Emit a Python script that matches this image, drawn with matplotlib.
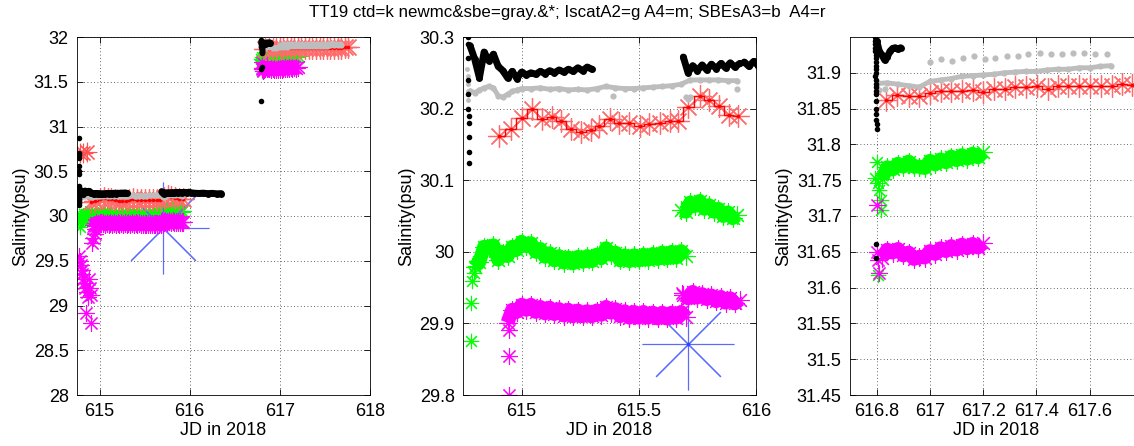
import numpy as np
import matplotlib.pyplot as plt
from matplotlib.ticker import FuncFormatter

plt.rcParams['font.family'] = ['Liberation Sans', 'DejaVu Sans']
plt.rcParams['font.size'] = 13


def grid_times(start, values, step=0.02):
    """Sample times of a regularly logged record that starts at `start`."""
    return start + step * np.arange(len(values))


# ----------------------------------------
# Data (JD in 2018, salinity psu)
# ----------------------------------------
# ctd = black dots
ctd_spike_x = [614.767, 614.767, 614.768, 614.768, 614.769, 614.769, 614.770, 614.770,
               614.771, 614.771, 614.772, 614.772, 614.773, 614.773, 614.774, 614.775,
               614.775, 614.776, 614.776]
ctd_spike_y = [30.87, 30.70, 30.68, 30.65, 30.56, 30.50, 30.47, 30.33, 30.30, 30.29,
               30.27, 30.24, 30.22, 30.20, 30.19, 30.18, 30.16, 30.14, 30.124]
ctd1_y = [30.288, 30.269, 30.243, 30.279, 30.267, 30.276, 30.259, 30.253, 30.243, 30.252,
          30.242, 30.251, 30.247, 30.250, 30.248, 30.252, 30.249, 30.253, 30.250, 30.254,
          30.251, 30.255, 30.252, 30.257, 30.253, 30.258, 30.255]
ctd1_x = grid_times(614.78, ctd1_y)
ctd2_y = [30.272, 30.250, 30.260, 30.253, 30.261, 30.254, 30.262, 30.256, 30.263,
          30.257, 30.264, 30.258, 30.263]
ctd2_x = grid_times(615.69, ctd2_y)
ctd3_x = [615.95, 615.97, 615.99, 616.01, 616.05, 616.10, 616.15, 616.20, 616.25,
          616.30, 616.35]
ctd3_y = [30.265, 30.259, 30.266, 30.260, 30.255, 30.252, 30.255, 30.250, 30.253,
          30.248, 30.250]
ctd_spike2_x = [616.793, 616.793, 616.794, 616.794, 616.795, 616.795, 616.796, 616.796,
                616.797, 616.797, 616.798, 616.798, 616.799, 616.799, 616.800, 616.800,
                616.794, 616.796, 616.798, 616.797, 616.796, 616.795]
ctd_spike2_y = [31.97, 31.95, 31.945, 31.94, 31.935, 31.93, 31.925, 31.92, 31.915, 31.91,
                31.905, 31.90, 31.843, 31.834, 31.829, 31.822, 31.895, 31.885, 31.875,
                31.661, 31.641, 31.287]
ctd_spike2b_x = [616.799, 616.799, 616.799, 616.799, 616.799]
ctd_spike2b_y = [31.89, 31.88, 31.87, 31.86, 31.85]
ctd4_x = [616.80, 616.81, 616.82, 616.83, 616.84, 616.85, 616.86, 616.87, 616.88, 616.89]
ctd4_y = [31.945, 31.930, 31.925, 31.918, 31.922, 31.930, 31.934, 31.935, 31.933, 31.935]

# newmc & sbe = gray
gray_spike_x = [614.768, 614.770, 614.771, 614.772, 614.773]
gray_spike_y = [30.255, 30.245, 30.235, 30.225, 30.212]
gray1_x = [614.78, 614.80, 614.82, 614.84, 614.86, 614.88, 614.90, 614.92, 614.94, 614.96,
           614.98, 615.00, 615.04, 615.08, 615.12, 615.16, 615.20, 615.24, 615.28, 615.32,
           615.36, 615.40, 615.44, 615.48, 615.52, 615.56, 615.60, 615.64, 615.68, 615.72,
           615.76, 615.80, 615.84, 615.88, 615.92]
gray1_y = [30.225, 30.222, 30.226, 30.229, 30.231, 30.229, 30.218, 30.216, 30.220, 30.224,
           30.226, 30.228, 30.228, 30.229, 30.227, 30.228, 30.226, 30.227, 30.226, 30.228,
           30.231, 30.229, 30.228, 30.228, 30.229, 30.230, 30.231, 30.232, 30.234, 30.240,
           30.240, 30.240, 30.240, 30.239, 30.239]
gray2_x = [616.80, 616.84, 616.88, 616.92, 616.96, 617.00, 617.04, 617.08, 617.12, 617.16,
           617.20, 617.24, 617.28, 617.32, 617.36, 617.40, 617.44, 617.48, 617.52, 617.56,
           617.60, 617.64, 617.68]
gray2_y = [31.885, 31.886, 31.884, 31.882, 31.880, 31.888, 31.890, 31.892, 31.895, 31.896,
           31.897, 31.898, 31.900, 31.901, 31.902, 31.902, 31.904, 31.905, 31.905, 31.907,
           31.907, 31.909, 31.910]
gray_dot_x = [615.39, 615.70, 615.71, 615.72, 615.92, 616.81, 616.83, 617.00, 617.04,
              617.084, 617.124, 617.165, 617.205, 617.246, 617.29, 617.33, 617.37,
              617.414, 617.454, 617.495, 617.539, 617.579, 617.62, 617.664]
gray_dot_y = [30.218, 30.216, 30.214, 30.216, 30.227, 31.876, 31.878, 31.915, 31.919,
              31.917, 31.921, 31.924, 31.919, 31.921, 31.924, 31.924, 31.926,
              31.927, 31.926, 31.926, 31.927, 31.928, 31.926, 31.926]

# IscatA2 = green
grn_pre_x = [614.785, 614.785, 614.79, 614.795, 614.80, 614.81,
             616.795, 616.80, 616.805, 616.81, 616.815, 616.815, 616.805]
grn_pre_y = [29.876, 29.929, 29.959, 29.970, 29.980, 29.985,
             31.753, 31.776, 31.746, 31.737, 31.723, 31.709, 31.618]
grn1_y = [29.979, 29.986, 30.007, 30.006, 30.009, 29.989, 29.999, 29.994, 30.007, 30.003,
          30.014, 30.008, 30.012, 30.000, 30.004, 29.993, 29.998, 29.988, 29.994, 29.985,
          29.992, 29.984, 29.993, 29.986, 29.994, 29.987, 29.996, 29.991, 30.005, 29.996,
          29.999, 29.988, 29.995, 29.987, 29.995, 29.988, 29.996, 29.989, 29.997, 29.990,
          29.999, 29.991, 30.000, 29.992, 30.001, 29.994]
grn1_x = grid_times(614.80, grn1_y)
grn2_y = [30.058, 30.056, 30.069, 30.064, 30.071, 30.060, 30.065, 30.056, 30.060, 30.050,
          30.055, 30.047, 30.051]
grn2_x = grid_times(615.68, grn2_y)
grn3_y = [31.752, 31.768, 31.765, 31.773, 31.769, 31.776, 31.769, 31.769, 31.767, 31.777,
          31.772, 31.779, 31.775, 31.783, 31.778, 31.785, 31.780, 31.787, 31.782, 31.789]
grn3_x = grid_times(616.82, grn3_y)

# IscatA4 = magenta
mag_pre_x = [614.77, 614.78, 614.79, 614.80, 614.81, 614.82, 614.83, 614.84, 614.85,
             614.86, 614.87, 614.88, 614.89, 614.90, 614.91, 614.92, 614.93, 614.946,
             614.947, 614.948, 615.683, 616.80, 616.805, 616.81, 616.80]
mag_pre_y = [29.55, 29.50, 29.45, 29.40, 29.35, 29.30, 29.25, 29.20, 28.92,
             29.15, 29.10, 29.30, 29.20, 28.80, 29.12, 29.70, 29.75, 29.80,
             29.854, 29.891, 29.943, 31.716, 31.639, 31.620, 31.650]
mag1_y = [29.901, 29.919, 29.916, 29.926, 29.919, 29.926, 29.916, 29.923, 29.914, 29.922,
          29.913, 29.920, 29.911, 29.919, 29.910, 29.918, 29.910, 29.917, 29.910, 29.918,
          29.912, 29.923, 29.915, 29.920, 29.910, 29.917, 29.908, 29.916, 29.908, 29.916,
          29.908, 29.915, 29.907, 29.915, 29.907, 29.915, 29.908, 29.916, 29.909]
mag1_x = grid_times(614.94, mag1_y)
mag2_y = [29.939, 29.935, 29.944, 29.936, 29.941, 29.934, 29.939, 29.931, 29.937, 29.929,
          29.935, 29.928, 29.933]
mag2_x = grid_times(615.69, mag2_y)
mag3_y = [31.642, 31.653, 31.649, 31.654, 31.645, 31.649, 31.640, 31.643, 31.642, 31.651,
          31.647, 31.655, 31.651, 31.658, 31.653, 31.660, 31.655, 31.661, 31.656, 31.662]
mag3_x = grid_times(616.82, mag3_y)

# SBEsA3 = blue
blue_x = [615.708]
blue_y = [29.871]

# SBE A4 = red
red_pre_x = [614.78, 614.82, 614.86]
red_pre_y = [30.70, 30.70, 30.72]
red1_x = [614.905, 614.953, 615.003, 615.046, 615.089, 615.129, 615.168, 615.211, 615.254,
          615.294, 615.332, 615.375, 615.415, 615.458, 615.504, 615.544, 615.590, 615.633,
          615.669, 615.712, 615.759, 615.798, 615.841, 615.884, 615.923]
red1_y = [30.162, 30.171, 30.187, 30.199, 30.185, 30.188, 30.183, 30.171, 30.168,
          30.170, 30.176, 30.186, 30.180, 30.180, 30.176, 30.179, 30.180, 30.183,
          30.183, 30.202, 30.218, 30.212, 30.204, 30.191, 30.189]
red2_x = [616.835, 616.878, 616.92, 616.96, 617.00, 617.04, 617.08, 617.12, 617.161,
          617.20, 617.24, 617.281, 617.321, 617.362, 617.402, 617.442, 617.48, 617.52,
          617.561, 617.60, 617.642, 617.682, 617.722, 617.757]
red2_y = [31.862, 31.869, 31.8675, 31.8675, 31.872, 31.874, 31.874, 31.874, 31.876,
          31.8735, 31.877, 31.878, 31.880, 31.8805, 31.881, 31.878, 31.881, 31.881,
          31.881, 31.881, 31.881, 31.882, 31.884, 31.883]

title_text = 'TT19 ctd=k newmc&sbe=gray.&*; IscatA2=g A4=m; SBEsA3=b  A4=r'

# panel limits and ticks
xlims = [(614.75, 618.0), (614.75, 616.0), (616.7, 617.8)]
ylims = [(28.0, 32.0), (29.8, 30.3), (31.45, 31.95)]
xticks = [[615, 616, 617, 618], [615, 615.5, 616], [616.8, 617, 617.2, 617.4, 617.6]]
yticks = [[28, 28.5, 29, 29.5, 30, 30.5, 31, 31.5, 32],
          [29.8, 29.9, 30, 30.1, 30.2, 30.3],
          [31.45, 31.5, 31.55, 31.6, 31.65, 31.7, 31.75, 31.8, 31.85, 31.9]]
lefts = [77, 463, 850]

STAR = (8, 2, 0)  # MATLAB style asterisk (+ and x)
GREEN = '#00ff00'
MAGENTA = '#ff00ff'
GRAY = '#bdbdbd'


def band(ax, xs, ys, color):
    # dense logger record: solid core plus asterisk fringe
    ax.plot(xs, ys, lw=10, color=color, solid_capstyle='butt')
    ax.plot(xs, ys, ls='none', marker=STAR, ms=13, mew=0.8, color=color)


def draw(ax):
    # IscatA2
    for xs, ys in [(grn1_x, grn1_y), (grn2_x, grn2_y), (grn3_x, grn3_y)]:
        band(ax, xs, ys, GREEN)
    ax.plot(grn_pre_x, grn_pre_y, ls='none', marker=STAR, ms=11, mew=0.8, color=GREEN)
    # SBEsA3 (sits under the magenta band)
    ax.plot(blue_x, blue_y, ls='none', marker=STAR, ms=66, mew=0.8, color='#5a6cff')
    ax.plot(blue_x, blue_y, ls='none', marker='o', ms=2.5, mew=0, color='#3040ff')
    # IscatA4
    for xs, ys in [(mag1_x, mag1_y), (mag2_x, mag2_y), (mag3_x, mag3_y)]:
        band(ax, xs, ys, MAGENTA)
    ax.plot(mag_pre_x, mag_pre_y, ls='none', marker=STAR, ms=12, mew=0.8, color=MAGENTA)
    # SBE A4
    ax.plot(red_pre_x, red_pre_y, ls='none', marker=STAR, ms=14, mew=0.8,
            color='#ff5050')
    for xs, ys in [(red1_x, red1_y), (red2_x, red2_y)]:
        ax.plot(xs, ys, ls='none', marker=STAR, ms=16, mew=0.9, color='#ff6a6a')
        ax.plot(xs, ys, drawstyle='steps-mid', lw=1.0, color='red')
        ax.plot(xs, ys, ls='none', marker='o', ms=2.5, mew=0, color='red')
    # newmc & sbe
    for xs, ys in [(gray1_x, gray1_y), (gray2_x, gray2_y)]:
        ax.plot(xs, ys, lw=3.5, marker='o', ms=4.5, mew=0, color=GRAY,
                solid_capstyle='round')
    ax.plot(gray_spike_x, gray_spike_y, ls='none', marker='o', ms=3.5, mew=0, color=GRAY)
    ax.plot(gray_dot_x, gray_dot_y, ls='none', marker='o', ms=4.5, mew=0, color=GRAY)
    # ctd
    for xs, ys in [(ctd1_x, ctd1_y), (ctd2_x, ctd2_y), (ctd3_x, ctd3_y), (ctd4_x, ctd4_y)]:
        ax.plot(xs, ys, lw=5, marker='o', ms=5, mew=0, color='black',
                solid_capstyle='round')
    ax.plot(ctd_spike_x, ctd_spike_y, ls='none', marker='o', ms=4, mew=0, color='black')
    ax.plot(ctd_spike2_x, ctd_spike2_y, ls='none', marker='o', ms=4, mew=0, color='black')
    ax.plot(ctd_spike2b_x, ctd_spike2b_y, ls='none', marker='o', ms=4, mew=0,
            color='black')


fig = plt.figure(figsize=(11.34, 4.46), dpi=100)
W, H = 1134.0, 446.0
fmt = FuncFormatter(lambda v, pos: f'{v:g}')

for i in range(3):
    ax = fig.add_axes([lefts[i] / W, 1 - 395 / H, 293 / W, 358 / H])
    draw(ax)
    ax.set_xlim(*xlims[i])
    ax.set_ylim(*ylims[i])
    ax.set_xticks(xticks[i])
    ax.set_yticks(yticks[i])
    ax.xaxis.set_major_formatter(fmt)
    ax.yaxis.set_major_formatter(fmt)
    ax.grid(True, ls=(0, (1, 3)), color='black', lw=0.6, alpha=0.8)
    ax.tick_params(direction='in', length=4, width=0.6, top=True, right=True,
                   labelsize=13, pad=6)
    for s in ax.spines.values():
        s.set_linewidth(0.6)
    ax.set_xlabel('JD in 2018', fontsize=13, labelpad=1)
    ax.set_ylabel('Salinity(psu)', fontsize=13, labelpad=3)

fig.text(0.5, 1 - 12 / H, title_text, ha='center', va='center', fontsize=12.2)

fig.savefig('out.png', dpi=100)
